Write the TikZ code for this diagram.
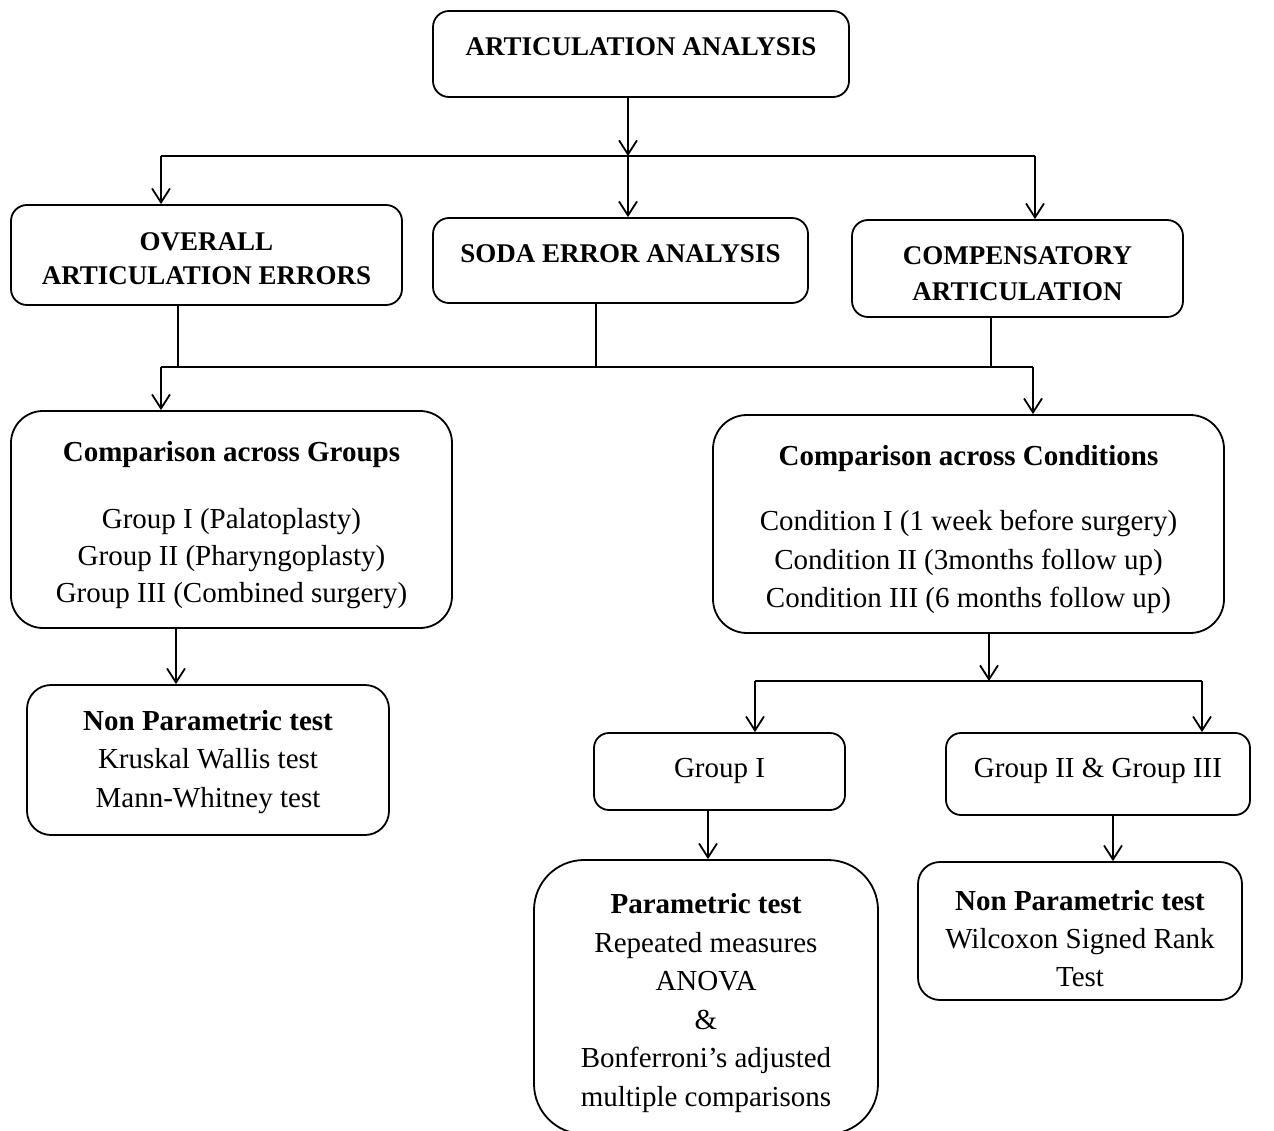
\documentclass[tikz,border=0pt]{standalone}
\usepackage{fontspec}
\setmainfont{Liberation Serif}
\usetikzlibrary{arrows.meta}
\begin{document}
\begin{tikzpicture}[x=1pt,y=-1pt,
  box/.style={draw, line width=1.8pt, rounded corners=#1, inner sep=0pt},
  box/.default=16pt,
  caps/.style={font=\fontsize{27}{35}\selectfont\bfseries, align=center, inner sep=0pt, yshift=-3.5pt},
  body/.style={font=\fontsize{29}{38.5}\selectfont, align=center, inner sep=0pt, yshift=-3.5pt},
  head/.style={font=\fontsize{29}{38.5}\selectfont\bfseries, align=center, inner sep=0pt, yshift=-3.5pt},
  wire/.style={line width=1.8pt},
  arr/.style={wire, -{Straight Barb[length=14pt,width=18pt,line width=1.8pt]}}
]
\useasboundingbox (0,0) rectangle (1274,1131);

% ---- boxes ----
\node[box, minimum width=416pt, minimum height=86pt] (top) at (641,54) {};
\node[box, minimum width=391pt, minimum height=100pt] (overall) at (206.5,255) {};
\node[box, minimum width=375pt, minimum height=85pt] (soda) at (620.5,260.5) {};
\node[box, minimum width=331pt, minimum height=97pt] (comp) at (1017.5,268.5) {};
\node[box=32pt, minimum width=441pt, minimum height=217pt] (groups) at (231.5,519.5) {};
\node[box=34pt, minimum width=511pt, minimum height=218pt] (conds) at (968.5,524) {};
\node[box=24pt, minimum width=362pt, minimum height=150pt] (np1) at (208,760) {};
\node[box=15pt, minimum width=251pt, minimum height=77pt] (g1) at (719.5,771.5) {};
\node[box=15pt, minimum width=304pt, minimum height=82pt] (g23) at (1098,774) {};
\node[box=50pt, minimum width=344pt, minimum height=274pt] (param) at (706,997) {};
\node[box=22pt, minimum width=324pt, minimum height=138pt] (np2) at (1080,931) {};

% ---- texts ----
\node[caps] (t-top) at (641,43) {ARTICULATION ANALYSIS};
\node[caps, font=\fontsize{27}{34}\selectfont\bfseries] (t-overall) at (206.5,255) {OVERALL\\ARTICULATION ERRORS};
\node[caps] (t-soda) at (620.5,250) {SODA ERROR ANALYSIS};
\node[caps, font=\fontsize{27}{36}\selectfont\bfseries] (t-comp) at (1017.5,270) {COMPENSATORY\\ARTICULATION};
\node[head] (t-groups) at (231.5,451) {Comparison across Groups};
\node[body, font=\fontsize{29}{37}\selectfont] (b-groups) at (231.5,555) {Group I (Palatoplasty)\\Group II (Pharyngoplasty)\\Group III (Combined surgery)};
\node[head] (t-conds) at (968.5,455) {Comparison across Conditions};
\node[body] (b-conds) at (968.5,558.5) {Condition I (1 week before surgery)\\Condition II (3months follow up)\\Condition III (6 months follow up)};
\node[body] (b-np1) at (208,758.5) {\textbf{Non Parametric test}\\Kruskal Wallis test\\Mann-Whitney test};
\node[body] (b-g1) at (719.5,767) {Group I};
\node[body] (b-g23) at (1098,767) {Group II \& Group III};
\node[body] (b-param) at (706,999.5) {\textbf{Parametric test}\\Repeated measures\\ANOVA\\\&\\Bonferroni’s adjusted\\multiple comparisons};
\node[body, font=\fontsize{29}{38}\selectfont] (b-np2) at (1080,935) {\textbf{Non Parametric test}\\Wilcoxon Signed Rank\\Test};

% ---- junction points ----
\coordinate (h1L) at (161,156);
\coordinate (h1M) at (628,156);
\coordinate (h1R) at (1035,156);
\coordinate (d1) at (178,367);
\coordinate (d2) at (596,367);
\coordinate (d3) at (991,367);
\coordinate (h2L) at (161,367);
\coordinate (h2R) at (1033,367);
\coordinate (a1) at (176,660);
\coordinate (h3M) at (989,681);
\coordinate (h3L) at (755,681);
\coordinate (h3R) at (1202,681);
\coordinate (a2) at (708,835);
\coordinate (a3) at (1113,835);

% ---- connectors ----
\draw[arr] (h1M |- top.south) -- (h1M);
\draw[wire] (h1L) -- (h1R);
\draw[arr] (h1L) -- (h1L |- overall.north);
\draw[arr] (h1M) -- (h1M |- soda.north);
\draw[arr] (h1R) -- (h1R |- comp.north);

\draw[wire] (d1 |- overall.south) -- (d1);
\draw[wire] (d2 |- soda.south) -- (d2);
\draw[wire] (d3 |- comp.south) -- (d3);
\draw[wire] (h2L) -- (h2R);
\draw[arr] (h2L) -- (h2L |- groups.north);
\draw[arr] (h2R) -- (h2R |- conds.north);

\draw[arr] (a1 |- groups.south) -- (a1 |- np1.north);

\draw[arr] (h3M |- conds.south) -- (h3M);
\draw[wire] (h3L) -- (h3R);
\draw[arr] (h3L) -- (h3L |- g1.north);
\draw[arr] (h3R) -- (h3R |- g23.north);

\draw[arr] (a2 |- g1.south) -- (a2 |- param.north);
\draw[arr] (a3 |- g23.south) -- (a3 |- np2.north);
\end{tikzpicture}
\end{document}
